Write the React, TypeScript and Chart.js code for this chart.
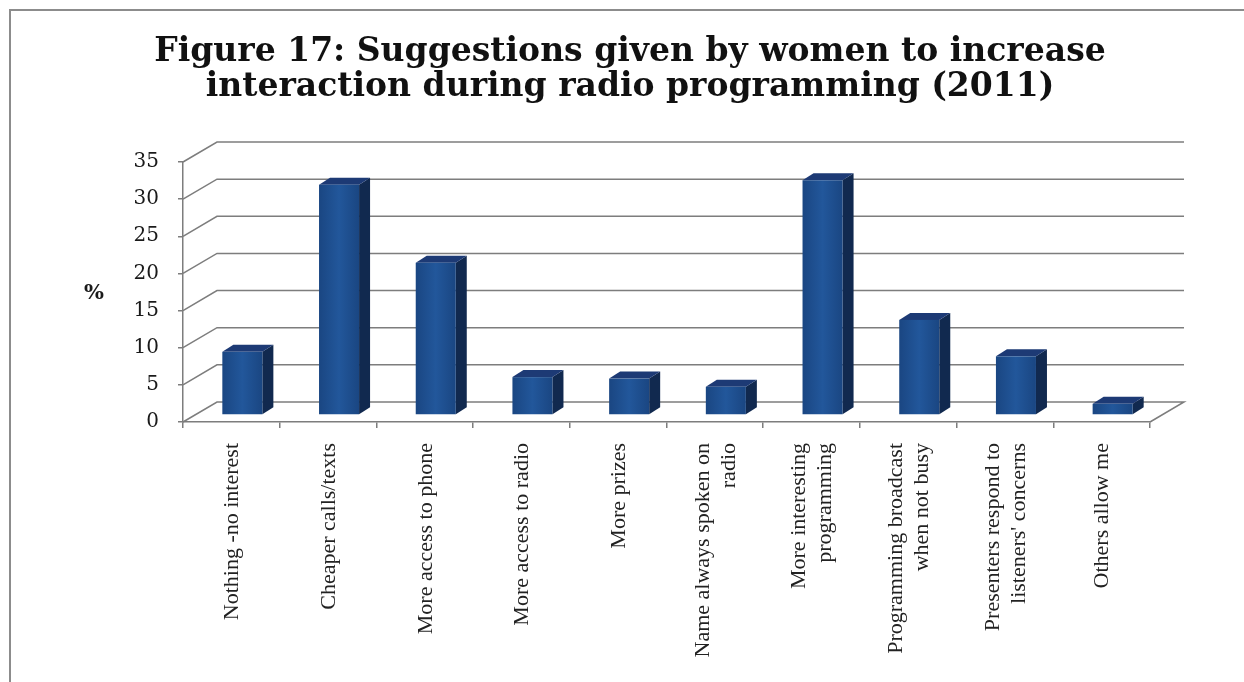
import React, { useEffect, useRef } from "react";
import { Chart, registerables } from "chart.js";

Chart.register(...registerables);

// ---------- data ----------
const TITLE_LINES = [
  "Figure 17: Suggestions given by women to increase",
  "interaction during radio programming (2011)",
];
const CATEGORIES: string[][] = [
  ["Nothing -no interest"],
  ["Cheaper calls/texts"],
  ["More access to phone"],
  ["More access to radio"],
  ["More prizes"],
  ["Name always spoken on", "radio"],
  ["More interesting", "programming"],
  ["Programming broadcast", "when not busy"],
  ["Presenters respond to", "listeners' concerns"],
  ["Others allow me"],
];
const VALUES = [8.5, 31, 20.5, 5.1, 4.9, 3.8, 31.6, 12.8, 7.9, 1.5];
const Y_MIN = 0;
const Y_MAX = 35;
const Y_STEP = 5;
const Y_AXIS_LABEL = "%";

// ---------- styling constants ----------
const W = 1244;
const H = 682;
const DEPTH_X = 34; // back wall offset
const DEPTH_Y = 20;
const BAR_OFF_X = 11; // bar front face offset inside the depth
const BAR_OFF_Y = 7;
const BAR_DEPTH_X = 11;
const BAR_DEPTH_Y = 7;
const GRID_COLOR = "#7d7d7d";

const threeDPlugin = {
  id: "threeD",
  beforeDraw(chart: any) {
    const ctx = chart.ctx;
    ctx.save();
    ctx.strokeStyle = "#8c8c8c";
    ctx.lineWidth = 2;
    ctx.beginPath();
    ctx.moveTo(10, H);
    ctx.lineTo(10, 10);
    ctx.lineTo(W, 10);
    ctx.stroke();
    ctx.restore();
  },
  beforeDatasetsDraw(chart: any) {
    const ctx = chart.ctx;
    const { left, right } = chart.chartArea;
    const ys = chart.scales.y;
    ctx.save();
    ctx.strokeStyle = GRID_COLOR;
    ctx.lineWidth = 1.5;
    for (let v = Y_MIN; v <= Y_MAX; v += Y_STEP) {
      const yf = ys.getPixelForValue(v);
      ctx.beginPath();
      ctx.moveTo(left, yf);
      ctx.lineTo(left + DEPTH_X, yf - DEPTH_Y);
      ctx.lineTo(right + DEPTH_X, yf - DEPTH_Y);
      if (v === Y_MIN) ctx.lineTo(right, yf);
      ctx.stroke();
    }
    ctx.restore();
  },
  afterDatasetsDraw(chart: any) {
    const ctx = chart.ctx;
    const meta = chart.getDatasetMeta(0);
    ctx.save();
    meta.data.forEach((el: any) => {
      const p = el.getProps(["x", "y", "base", "width"], true);
      const l = p.x - p.width / 2 + BAR_OFF_X;
      const r = p.x + p.width / 2 + BAR_OFF_X;
      const t = p.y - BAR_OFF_Y;
      const b = p.base - BAR_OFF_Y;
      // side face
      ctx.fillStyle = "#11294f";
      ctx.beginPath();
      ctx.moveTo(r, b);
      ctx.lineTo(r + BAR_DEPTH_X, b - BAR_DEPTH_Y);
      ctx.lineTo(r + BAR_DEPTH_X, t - BAR_DEPTH_Y);
      ctx.lineTo(r, t);
      ctx.closePath();
      ctx.fill();
      // top face
      ctx.fillStyle = "#1d3a75";
      ctx.beginPath();
      ctx.moveTo(l, t);
      ctx.lineTo(l + BAR_DEPTH_X, t - BAR_DEPTH_Y);
      ctx.lineTo(r + BAR_DEPTH_X, t - BAR_DEPTH_Y);
      ctx.lineTo(r, t);
      ctx.closePath();
      ctx.fill();
      // front face
      const g = ctx.createLinearGradient(l, 0, r, 0);
      g.addColorStop(0, "#1a4682");
      g.addColorStop(0.5, "#22579b");
      g.addColorStop(1, "#1a4682");
      ctx.fillStyle = g;
      ctx.fillRect(l, t, r - l, b - t);
    });
    ctx.restore();
  },
  afterDraw(chart: any) {
    const ctx = chart.ctx;
    const xs = chart.scales.x;
    const { bottom } = chart.chartArea;
    ctx.save();
    ctx.fillStyle = "#222";
    ctx.font = '22px "Liberation Serif"';
    const lh = 26;
    CATEGORIES.forEach((lines, i) => {
      const cx = xs.getPixelForTick(i) + 1;
      const n = lines.length;
      lines.forEach((line, j) => {
        const lx = cx + (j - (n - 1) / 2) * lh;
        ctx.save();
        ctx.translate(lx, bottom + 21);
        ctx.rotate(-Math.PI / 2);
        ctx.textAlign = "right";
        ctx.textBaseline = "middle";
        ctx.fillText(line, 0, 0);
        ctx.restore();
      });
    });
    // y axis label
    ctx.font = 'bold 21px "DejaVu Serif"';
    ctx.textAlign = "center";
    ctx.textBaseline = "middle";
    ctx.fillStyle = "#1a1a1a";
    ctx.fillText(Y_AXIS_LABEL, 94, 294);
    ctx.restore();
  },
};

export default function App() {
  const ref = useRef<HTMLCanvasElement | null>(null);
  useEffect(() => {
    if (!ref.current) return;
    const chart = new Chart(ref.current, {
      type: "bar",
      data: {
        labels: CATEGORIES,
        datasets: [
          {
            data: VALUES,
            backgroundColor: "rgba(0,0,0,0)",
            borderWidth: 0,
            categoryPercentage: 1,
            barPercentage: 0.414,
          },
        ],
      },
      options: {
        responsive: false,
        animation: false,
        devicePixelRatio: 1,
        layout: { padding: { left: 16, right: 0, top: 0, bottom: 0 } },
        plugins: {
          legend: { display: false },
          tooltip: { enabled: false },
          title: {
            display: true,
            text: TITLE_LINES,
            color: "#111",
            font: { family: "DejaVu Serif", size: 33, weight: "bold", lineHeight: "35px" },
            padding: { top: 35, bottom: 57 },
          },
        },
        scales: {
          x: {
            ticks: { display: false },
            grid: {
              display: true,
              drawOnChartArea: false,
              drawTicks: true,
              tickLength: 6,
              offset: true,
              color: GRID_COLOR,
              lineWidth: 1.5,
            },
            border: { display: true, color: GRID_COLOR, width: 1.5 },
            afterFit: (scale: any) => {
              scale.height = 260;
            },
          },
          y: {
            min: Y_MIN,
            max: Y_MAX,
            ticks: {
              stepSize: Y_STEP,
              color: "#1a1a1a",
              font: { family: "DejaVu Serif", size: 20 },
              padding: 19,
            },
            grid: {
              display: true,
              drawOnChartArea: false,
              drawTicks: true,
              tickLength: 5,
              color: GRID_COLOR,
              lineWidth: 1.5,
            },
            border: { display: true, color: GRID_COLOR, width: 1.5 },
            afterFit: (scale: any) => {
              scale.width = 167;
            },
          },
          yRight: {
            position: "right",
            display: true,
            ticks: { display: false },
            grid: { display: false, drawTicks: false },
            border: { display: false },
            afterFit: (scale: any) => {
              scale.width = 94;
            },
          },
        },
      },
      plugins: [threeDPlugin],
    });
    return () => chart.destroy();
  }, []);
  return (
    <div style={{ position: "fixed", left: 0, top: 0, width: W, height: H, background: "#fff" }}>
      <canvas ref={ref} width={W} height={H} style={{ display: "block" }} />
    </div>
  );
}
